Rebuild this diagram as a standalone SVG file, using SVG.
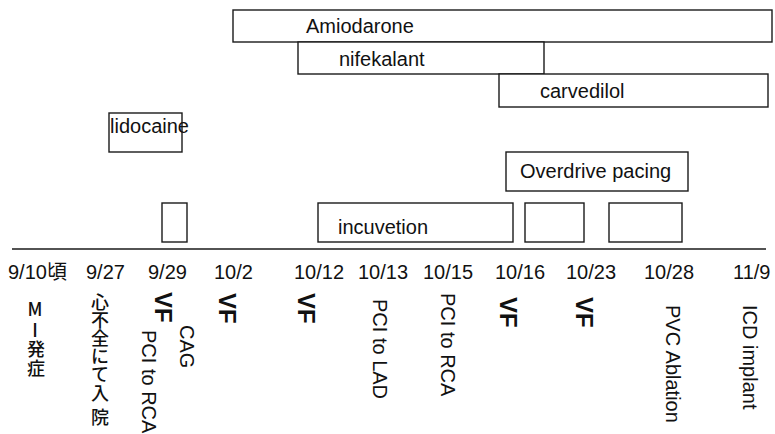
<svg xmlns="http://www.w3.org/2000/svg" width="775" height="434" viewBox="0 0 775 434">
  <style>
    .box { fill: #fff; stroke: #1a1a1a; stroke-width: 1.4; }
    .lbl { font-family: "Liberation Sans", Arial, "Noto Sans CJK JP", sans-serif; font-size: 20px; fill: #111; }
    .date { font-family: "Liberation Sans", Arial, "Noto Sans CJK JP", sans-serif; font-size: 20px; fill: #111; }
    .vf { font-family: "Liberation Sans", Arial, sans-serif; font-size: 24px; font-weight: bold; fill: #111; }
    .jp { font-family: "Noto Sans CJK JP", "Liberation Sans", sans-serif; font-size: 18px; font-weight: 500; fill: #111; text-anchor: middle; }
    .axis { stroke: #1a1a1a; stroke-width: 1.5; }
  </style>

  <!-- drug therapy bars -->
  <g id="amiodarone">
    <rect class="box" x="233" y="10" width="539" height="32"/>
    <text class="lbl" x="306" y="33">Amiodarone</text>
  </g>
  <g id="nifekalant">
    <rect class="box" x="298" y="42" width="246" height="32"/>
    <text class="lbl" x="339" y="66">nifekalant</text>
  </g>
  <g id="carvedilol">
    <rect class="box" x="499" y="74" width="269" height="33"/>
    <text class="lbl" x="540" y="98">carvedilol</text>
  </g>
  <g id="lidocaine">
    <rect class="box" x="109" y="113" width="73" height="39"/>
    <text class="lbl" x="110" y="133">lidocaine</text>
  </g>
  <g id="overdrive-pacing">
    <rect class="box" x="506" y="152" width="182" height="39"/>
    <text class="lbl" x="520" y="178">Overdrive pacing</text>
  </g>

  <!-- intubation periods -->
  <g id="intubation-1">
    <rect class="box" x="162" y="203" width="25" height="39"/>
  </g>
  <g id="intubation-2">
    <rect class="box" x="318" y="203" width="195" height="39"/>
    <text class="lbl" x="338" y="234">incuvetion</text>
  </g>
  <g id="intubation-3">
    <rect class="box" x="525" y="203" width="59" height="39"/>
  </g>
  <g id="intubation-4">
    <rect class="box" x="609" y="203" width="73" height="39"/>
  </g>

  <!-- timeline axis -->
  <g id="connectors">
    <line class="axis" x1="12" y1="249" x2="766" y2="249"/>
  </g>

  <!-- dates -->
  <g id="dates">
    <text class="date" x="8" y="279">9/10頃</text>
    <text class="date" x="86" y="279">9/27</text>
    <text class="date" x="148" y="279">9/29</text>
    <text class="date" x="214" y="279">10/2</text>
    <text class="date" x="294" y="279">10/12</text>
    <text class="date" x="358" y="279">10/13</text>
    <text class="date" x="423" y="279">10/15</text>
    <text class="date" x="495" y="279">10/16</text>
    <text class="date" x="566" y="279">10/23</text>
    <text class="date" x="644" y="279">10/28</text>
    <text class="date" x="733" y="279">11/9</text>
  </g>

  <!-- events -->
  <g id="event-mi">
    <text class="jp" x="35 35 36 36" y="316 337 356 375">MI発症</text>
  </g>
  <g id="event-admission">
    <text class="jp" x="100 100 100 100 100 100 100" y="309 327 345 363 381 400 424">心不全にて入院</text>
  </g>
  <g id="event-0929">
    <text class="vf" transform="translate(155,292) rotate(90)">VF</text>
    <text class="lbl" transform="translate(180,325) rotate(90)">CAG</text>
    <text class="lbl" transform="translate(142,330) rotate(90)">PCI to RCA</text>
  </g>
  <g id="event-1002">
    <text class="vf" transform="translate(219,293) rotate(90)">VF</text>
  </g>
  <g id="event-1012">
    <text class="vf" transform="translate(298,293) rotate(90)">VF</text>
  </g>
  <g id="event-1013">
    <text class="lbl" transform="translate(373,299) rotate(90)">PCI to LAD</text>
  </g>
  <g id="event-1015">
    <text class="lbl" transform="translate(441,293) rotate(90)">PCI to RCA</text>
  </g>
  <g id="event-1016">
    <text class="vf" transform="translate(500,297) rotate(90)">VF</text>
  </g>
  <g id="event-1023">
    <text class="vf" transform="translate(576,297) rotate(90)">VF</text>
  </g>
  <g id="event-1028">
    <text class="lbl" transform="translate(666,305) rotate(90)">PVC Ablation</text>
  </g>
  <g id="event-1109">
    <text class="lbl" transform="translate(743,305) rotate(90)">ICD implant</text>
  </g>
</svg>
